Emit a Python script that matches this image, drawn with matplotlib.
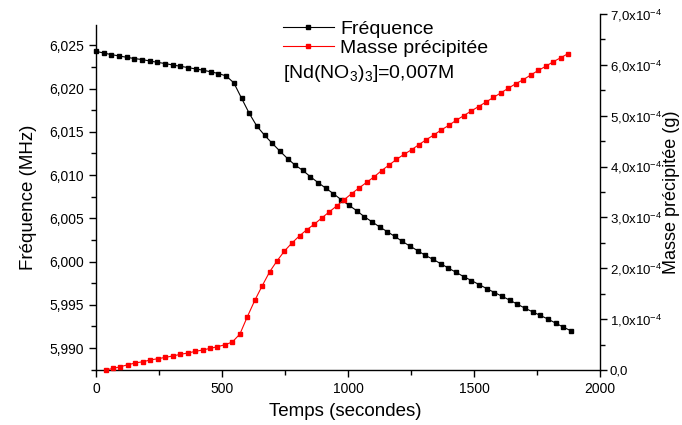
import matplotlib.pyplot as plt
from matplotlib.ticker import MultipleLocator, FuncFormatter

plt.rcParams["font.family"] = ["Liberation Sans", "DejaVu Sans"]
plt.rcParams["mathtext.default"] = "regular"

# temps (s) et fréquence du quartz (MHz)
temps_freq = [0, 30, 61, 91, 122, 152, 182, 213, 243, 274, 304, 334, 365, 395, 426,
              456, 486, 517, 547, 578, 608, 638, 669, 699, 730, 760, 790, 821, 851,
              882, 912, 942, 973, 1003, 1034, 1064, 1094, 1125, 1155, 1186, 1216,
              1246, 1277, 1307, 1338, 1368, 1398, 1429, 1459, 1490, 1520, 1550, 1581,
              1611, 1642, 1672, 1702, 1733, 1763, 1794, 1824, 1854, 1885]
frequence = [6.02431, 6.02411, 6.02393, 6.02377, 6.02362, 6.02347, 6.02336, 6.02319,
             6.02304, 6.02289, 6.02273, 6.02258, 6.02243, 6.02227, 6.02212, 6.02193,
             6.02174, 6.02145, 6.02066, 6.01886, 6.01714, 6.01567, 6.01460, 6.01368,
             6.01276, 6.01191, 6.01115, 6.01053, 6.00980, 6.00911, 6.00848, 6.00785,
             6.00715, 6.00652, 6.00589, 6.00520, 6.00462, 6.00401, 6.00347, 6.00290,
             6.00232, 6.00178, 6.00125, 6.00071, 6.00025, 5.99975, 5.99925, 5.99875,
             5.99826, 5.99780, 5.99734, 5.99688, 5.99642, 5.99599, 5.99553, 5.99507,
             5.99461, 5.99418, 5.99377, 5.99334, 5.99288, 5.99242, 5.99199]

# temps (s) et masse précipitée (en 1e-4 g)
temps_masse = [38, 68, 97, 127, 156, 186, 216, 245, 275, 304, 334, 364, 393, 423, 452,
               482, 512, 541, 571, 600, 630, 660, 689, 719, 748, 778, 808, 837, 867,
               896, 926, 956, 985, 1015, 1044, 1074, 1104, 1133, 1163, 1192, 1222,
               1252, 1281, 1311, 1340, 1370, 1400, 1429, 1459, 1488, 1518, 1548, 1577,
               1607, 1636, 1666, 1696, 1725, 1755, 1784, 1814, 1844, 1873]
masse = [0.00, 0.031, 0.065, 0.104, 0.138, 0.163, 0.197, 0.222, 0.248, 0.275, 0.307,
         0.334, 0.365, 0.393, 0.424, 0.458, 0.497, 0.550, 0.707, 1.041, 1.368, 1.66,
         1.93, 2.15, 2.34, 2.50, 2.64, 2.76, 2.87, 2.99, 3.11, 3.23, 3.35, 3.47, 3.58,
         3.69, 3.80, 3.92, 4.03, 4.14, 4.24, 4.33, 4.43, 4.53, 4.62, 4.72, 4.81, 4.91,
         5.00, 5.09, 5.18, 5.27, 5.36, 5.45, 5.54, 5.63, 5.71, 5.80, 5.89, 5.97, 6.06,
         6.14, 6.22]

W, H = 682, 425
fig = plt.figure(figsize=(W / 100, H / 100), dpi=100)


def box(x0, y0, x1, y1):
    # pixel box (top-left origin) -> figure fraction
    return [x0 / W, 1 - y1 / H, (x1 - x0) / W, (y1 - y0) / H]


ax = fig.add_axes(box(96, 25, 600, 370))
ax2 = fig.add_axes(box(96, 14, 600, 370))
ax2.patch.set_visible(False)

l1, = ax.plot(temps_freq, frequence, "-s", color="black", lw=0.8, ms=3.5, clip_on=False,
              label="Fréquence")
l2, = ax2.plot(temps_masse, masse, "-s", color="red", lw=0.8, ms=3.5, clip_on=False,
               label="Masse précipitée")

for a in (ax, ax2):
    a.set_xlim(0, 2000)
    a.spines["top"].set_visible(False)

ax.spines["right"].set_visible(False)
ax2.spines["left"].set_visible(False)
ax2.spines["bottom"].set_visible(False)
ax2.set_xticks([])
ax2.yaxis.tick_right()

ax.set_ylim(5.98746, 6.02735)
ax.yaxis.set_major_locator(MultipleLocator(0.005))
ax.yaxis.set_minor_locator(MultipleLocator(0.0025))
ax.yaxis.set_major_formatter(FuncFormatter(lambda v, _: f"{v:.3f}".replace(".", ",")))
ax.xaxis.set_major_locator(MultipleLocator(500))
ax.xaxis.set_minor_locator(MultipleLocator(250))

ax2.set_ylim(0, 7)
ax2.yaxis.set_major_locator(MultipleLocator(1))
ax2.yaxis.set_minor_locator(MultipleLocator(0.5))
ax2.yaxis.set_major_formatter(FuncFormatter(
    lambda v, _: "0,0" if abs(v) < 1e-9 else f"{v:.1f}".replace(".", ",") + r"x10$^{-4}$"))

for a in (ax, ax2):
    a.tick_params(which="major", direction="out", length=5, width=1, labelsize=10)
    a.tick_params(which="minor", direction="out", length=3.5, width=1)
    for s in a.spines.values():
        s.set_linewidth(1)
ax2.tick_params(axis="y", pad=2, labelsize=9.5)

fig.text(29 / W, 1 - 197 / H, "Fréquence (MHz)", rotation=90, ha="center", va="center",
         fontsize=13.5)
fig.text(672 / W, 1 - 192 / H, "Masse précipitée (g)", rotation=90, ha="center",
         va="center", fontsize=13)
fig.text(345 / W, 1 - 412 / H, "Temps (secondes)", ha="center", va="center", fontsize=13.5)

fig.legend(handles=[l1, l2], loc="upper left", bbox_to_anchor=(283 / W, 1 - 20 / H),
           frameon=False, borderpad=0, borderaxespad=0, handlelength=2.6,
           handletextpad=0.35, labelspacing=0.1, fontsize=14)
fig.text(283 / W, 1 - 74 / H, r"[Nd(NO$_3$)$_3$]=0,007M", fontsize=14, va="center")

fig.savefig("out.png", dpi=100)
